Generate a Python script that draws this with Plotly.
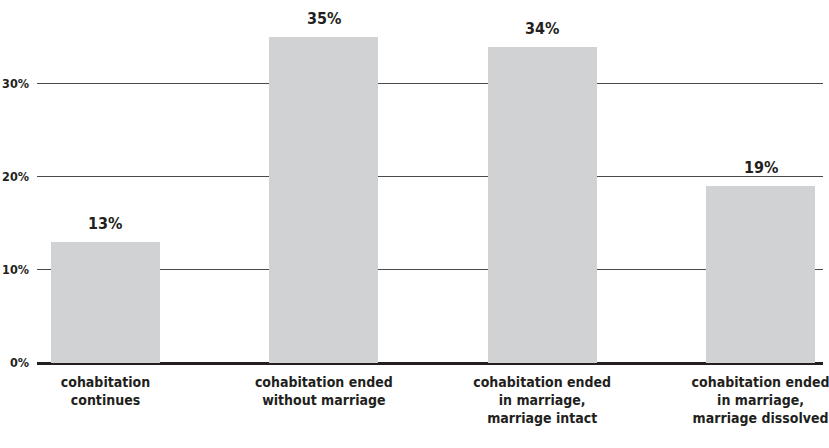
import plotly.graph_objects as go

categories = [
    "cohabitation<br>continues",
    "cohabitation ended<br>without marriage",
    "cohabitation ended<br>in marriage,<br>marriage intact",
    "cohabitation ended<br>in marriage,<br>marriage dissolved",
]
shares = [13, 35, 34, 19]
y_ticks = [0, 10, 20, 30]
y_tick_labels = ["0%", "10%", "20%", "30%"]

FONT = "DejaVu Sans Condensed, Liberation Sans Narrow, Arial Narrow, sans-serif"
INK = "#231f20"

positions = list(range(len(categories)))

fig = go.Figure(
    go.Bar(
        x=positions,
        y=shares,
        width=0.5,
        marker=dict(color="#d1d2d4", line=dict(width=0)),
        hoverinfo="skip",
    )
)

# value labels sitting just above each bar
for xpos, v in zip(positions, shares):
    fig.add_annotation(
        x=xpos,
        y=v,
        text=f"{v}%",
        showarrow=False,
        xanchor="center",
        yanchor="bottom",
        yshift=7,
        font=dict(family=FONT, size=16, color=INK, weight="bold"),
    )

fig.update_layout(
    width=829,
    height=448,
    margin=dict(l=37, r=0, t=0, b=85),
    paper_bgcolor="white",
    plot_bgcolor="white",
    showlegend=False,
    bargap=0,
    font=dict(family=FONT, color=INK, weight="bold"),
)

fig.update_xaxes(
    range=[-0.3136, 3.286],
    tickvals=positions,
    ticktext=categories,
    tickfont=dict(family=FONT, size=14, color=INK, weight="bold"),
    ticklabeloverflow="allow",
    showgrid=False,
    zeroline=False,
    showline=False,
    ticks="",
    ticklabelstandoff=9,
    fixedrange=True,
)

fig.update_yaxes(
    range=[0, 39.03],
    tickvals=y_ticks,
    ticktext=y_tick_labels,
    tickfont=dict(family=FONT, size=12.5, color=INK, weight="bold"),
    showgrid=True,
    gridcolor="#4a4a4a",
    gridwidth=1,
    zeroline=True,
    zerolinecolor=INK,
    zerolinewidth=3,
    showline=False,
    ticks="",
    ticklabelstandoff=7,
    fixedrange=True,
)

fig.write_html("out.html")
